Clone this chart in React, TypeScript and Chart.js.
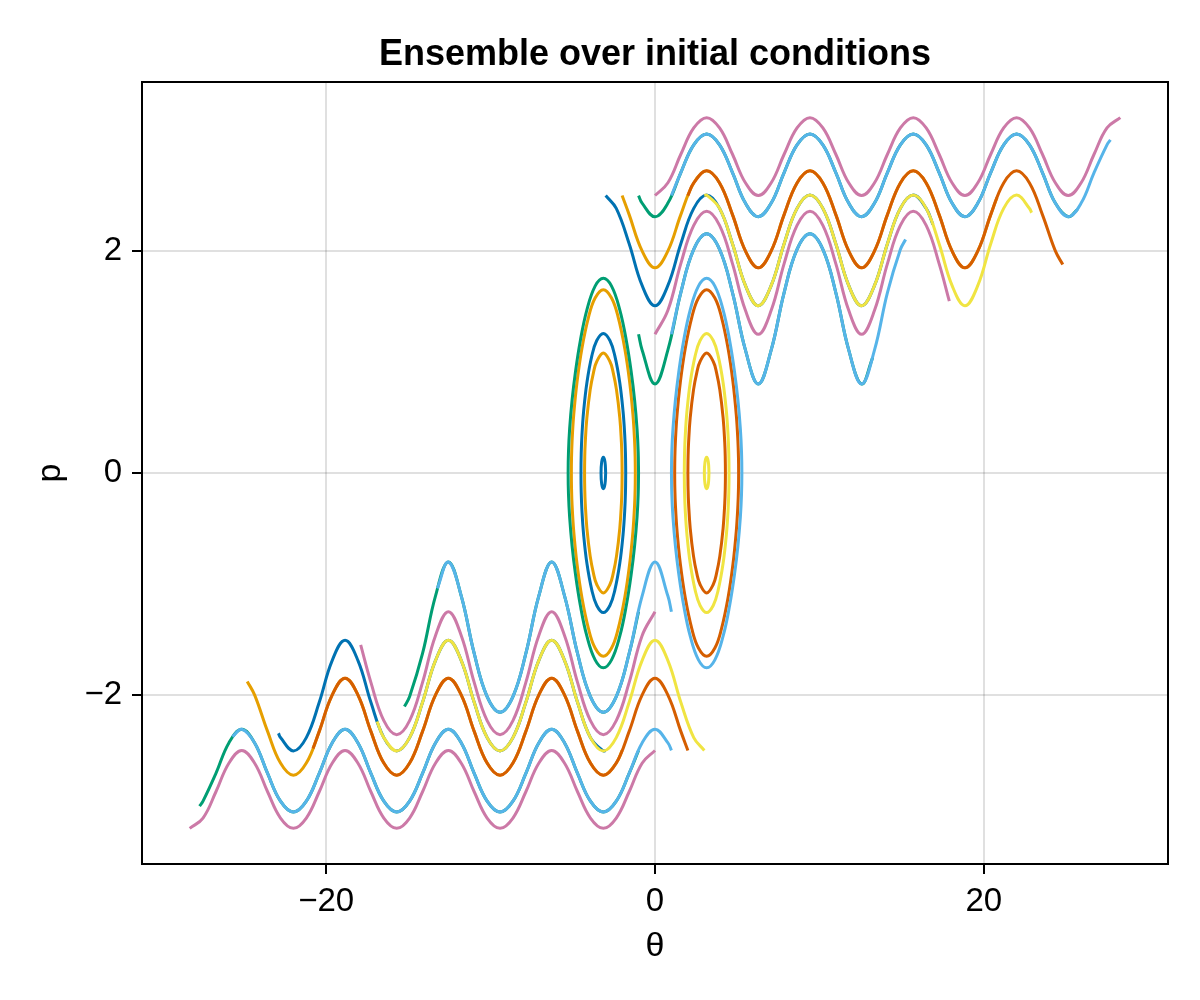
import { useEffect, useRef } from "react";
import { Chart, registerables } from "chart.js";

Chart.register(...registerables);

// ---- axes ----
const xTicks = [-20, 0, 20];
const yTicks = [-2, 0, 2];
const xRange = [-31.2, 31.2];
const yRange = [-3.523, 3.523];
const titleText = "Ensemble over initial conditions";
const xLabel = "θ";
const yLabel = "p";

// Wong palette (one colour per initial θ0 = -3 … 3)
const palette = ["#0072B2", "#E69F00", "#009E73", "#CC79A7", "#56B4E9", "#D55E00", "#F0E442"];

// ---- trajectories, row p0 = 2.5 ----
const p25_m3 = [[-3,2.5],[-2.356,2.384],[-1.571,2.066],[-0.785,1.69],[0,1.507],[0.785,1.69],[1.571,2.066],[2.356,2.384],[3.142,2.504],[3.927,2.384],[4.712,2.066],[5.498,1.69],[6.283,1.507],[7.069,1.69],[7.854,2.066],[8.639,2.384],[9.425,2.504],[10.21,2.384],[10.996,2.066],[11.781,1.69],[12.566,1.507],[13.352,1.69],[14.137,2.066],[14.923,2.384],[15.708,2.504],[16.493,2.384],[16.9,2.239]];
const p25_m2 = [[-2,2.5],[-1.571,2.328],[-0.785,2.001],[0,1.849],[0.785,2.001],[1.571,2.328],[2.356,2.614],[3.142,2.724],[3.927,2.614],[4.712,2.328],[5.498,2.001],[6.283,1.849],[7.069,2.001],[7.854,2.328],[8.639,2.614],[9.425,2.724],[10.21,2.614],[10.996,2.328],[11.781,2.001],[12.566,1.849],[13.352,2.001],[14.137,2.328],[14.923,2.614],[15.708,2.724],[16.493,2.614],[17.279,2.328],[18.064,2.001],[18.85,1.849],[19.635,2.001],[20.42,2.328],[20.8,2.482]];
const p25_m1 = [[-1,2.5],[-0.785,2.432],[0,2.309],[0.785,2.432],[1.571,2.707],[2.356,2.957],[3.142,3.055],[3.927,2.957],[4.712,2.707],[5.498,2.432],[6.283,2.309],[7.069,2.432],[7.854,2.707],[8.639,2.957],[9.425,3.055],[10.21,2.957],[10.996,2.707],[11.781,2.432],[12.566,2.309],[13.352,2.432],[14.137,2.707],[14.923,2.957],[15.708,3.055],[16.493,2.957],[17.279,2.707],[18.064,2.432],[18.85,2.309],[19.635,2.432],[20.42,2.707],[21.206,2.957],[21.991,3.055],[22.777,2.957],[23.562,2.707],[24.347,2.432],[25.133,2.309],[25.7,2.376]];
const p25_0 = [[0,2.5],[0.785,2.615],[1.571,2.872],[2.356,3.109],[3.142,3.202],[3.927,3.109],[4.712,2.872],[5.498,2.615],[6.283,2.5],[7.069,2.615],[7.854,2.872],[8.639,3.109],[9.425,3.202],[10.21,3.109],[10.996,2.872],[11.781,2.615],[12.566,2.5],[13.352,2.615],[14.137,2.872],[14.923,3.109],[15.708,3.202],[16.493,3.109],[17.279,2.872],[18.064,2.615],[18.85,2.5],[19.635,2.615],[20.42,2.872],[21.206,3.109],[21.991,3.202],[22.777,3.109],[23.562,2.872],[24.347,2.615],[25.133,2.5],[25.918,2.615],[26.704,2.872],[27.489,3.109],[28.3,3.202]];
const p25_1 = [[1,2.5],[1.571,2.707],[2.356,2.957],[3.142,3.055],[3.927,2.957],[4.712,2.707],[5.498,2.432],[6.283,2.309],[7.069,2.432],[7.854,2.707],[8.639,2.957],[9.425,3.055],[10.21,2.957],[10.996,2.707],[11.781,2.432],[12.566,2.309],[13.352,2.432],[14.137,2.707],[14.923,2.957],[15.708,3.055],[16.493,2.957],[17.279,2.707],[18.064,2.432],[18.85,2.309],[19.635,2.432],[20.42,2.707],[21.206,2.957],[21.991,3.055],[22.777,2.957],[23.562,2.707],[24.347,2.432],[25.133,2.309],[25.918,2.432],[26.704,2.707],[27.489,2.957],[27.7,3.002]];
const p25_2 = [[2,2.5],[2.356,2.614],[3.142,2.724],[3.927,2.614],[4.712,2.328],[5.498,2.001],[6.283,1.849],[7.069,2.001],[7.854,2.328],[8.639,2.614],[9.425,2.724],[10.21,2.614],[10.996,2.328],[11.781,2.001],[12.566,1.849],[13.352,2.001],[14.137,2.328],[14.923,2.614],[15.708,2.724],[16.493,2.614],[17.279,2.328],[18.064,2.001],[18.85,1.849],[19.635,2.001],[20.42,2.328],[21.206,2.614],[21.991,2.724],[22.777,2.614],[23.562,2.328],[24.347,2.001],[24.8,1.878]];
const p25_3 = [[3,2.5],[3.142,2.504],[3.927,2.384],[4.712,2.066],[5.498,1.69],[6.283,1.507],[7.069,1.69],[7.854,2.066],[8.639,2.384],[9.425,2.504],[10.21,2.384],[10.996,2.066],[11.781,1.69],[12.566,1.507],[13.352,1.69],[14.137,2.066],[14.923,2.384],[15.708,2.504],[16.493,2.384],[17.279,2.066],[18.064,1.69],[18.85,1.507],[19.635,1.69],[20.42,2.066],[21.206,2.384],[21.991,2.504],[22.777,2.384],[22.9,2.345]];

// ---- row p0 = 1.25 ----
const ring126L = [[-1.781,0],[-1.797,0.175],[-1.842,0.343],[-1.942,0.554],[-2.142,0.814],[-2.442,1.055],[-2.742,1.194],[-3.142,1.258],[-3.542,1.194],[-3.842,1.055],[-4.142,0.814],[-4.342,0.554],[-4.442,0.343],[-4.487,0.175],[-4.502,0],[-4.487,-0.175],[-4.442,-0.343],[-4.342,-0.554],[-4.142,-0.814],[-3.842,-1.055],[-3.542,-1.194],[-3.142,-1.258],[-2.742,-1.194],[-2.442,-1.055],[-2.142,-0.814],[-1.942,-0.554],[-1.842,-0.343],[-1.797,-0.175],[-1.781,0]];
const ring165L = [[-1.197,0],[-1.207,0.134],[-1.242,0.289],[-1.342,0.525],[-1.542,0.82],[-1.842,1.125],[-2.242,1.405],[-2.642,1.577],[-3.142,1.652],[-3.642,1.577],[-4.042,1.405],[-4.442,1.125],[-4.742,0.82],[-4.942,0.525],[-5.042,0.289],[-5.077,0.134],[-5.086,0],[-5.077,-0.134],[-5.042,-0.289],[-4.942,-0.525],[-4.742,-0.82],[-4.442,-1.125],[-4.042,-1.405],[-3.642,-1.577],[-3.142,-1.652],[-2.642,-1.577],[-2.242,-1.405],[-1.842,-1.125],[-1.542,-0.82],[-1.342,-0.525],[-1.242,-0.289],[-1.207,-0.134],[-1.197,0]];
const p125_m1 = [[-1,1.25],[-0.785,1.109],[0,0.802],[0.785,1.109],[1.571,1.626],[2.356,2.014],[3.142,2.155],[3.927,2.014],[4.712,1.626],[5.498,1.109],[6.283,0.802],[7.069,1.109],[7.854,1.626],[8.639,2.014],[9.425,2.155],[10.21,2.014],[10.996,1.626],[11.781,1.109],[12.566,0.802],[13.24,1.04]];
const p125_0 = [[0,1.25],[0.785,1.466],[1.571,1.887],[2.356,2.231],[3.142,2.358],[3.927,2.231],[4.712,1.887],[5.498,1.466],[6.283,1.25],[7.069,1.466],[7.854,1.887],[8.639,2.231],[9.425,2.358],[10.21,2.231],[10.996,1.887],[11.781,1.466],[12.566,1.25],[13.352,1.466],[14.137,1.887],[14.923,2.231],[15.708,2.358],[16.493,2.231],[17.279,1.887],[17.9,1.549]];
const p125_1 = [[1,1.25],[1.571,1.626],[2.356,2.014],[3.142,2.155],[3.927,2.014],[4.712,1.626],[5.498,1.109],[6.283,0.802],[7.069,1.109],[7.854,1.626],[8.639,2.014],[9.425,2.155],[10.21,2.014],[10.996,1.626],[11.781,1.109],[12.566,0.802],[13.352,1.109],[14.137,1.626],[14.923,2.014],[15.24,2.104]];
const ring165R = [[1.197,0],[1.207,0.134],[1.242,0.289],[1.342,0.525],[1.542,0.82],[1.842,1.125],[2.242,1.405],[2.642,1.577],[3.142,1.652],[3.642,1.577],[4.042,1.405],[4.442,1.125],[4.742,0.82],[4.942,0.525],[5.042,0.289],[5.077,0.134],[5.086,0],[5.077,-0.134],[5.042,-0.289],[4.942,-0.525],[4.742,-0.82],[4.442,-1.125],[4.042,-1.405],[3.642,-1.577],[3.142,-1.652],[2.642,-1.577],[2.242,-1.405],[1.842,-1.125],[1.542,-0.82],[1.342,-0.525],[1.242,-0.289],[1.207,-0.134],[1.197,0]];
const ring126R = [[1.781,0],[1.797,0.175],[1.842,0.343],[1.942,0.554],[2.142,0.814],[2.442,1.055],[2.742,1.194],[3.142,1.258],[3.542,1.194],[3.842,1.055],[4.142,0.814],[4.342,0.554],[4.442,0.343],[4.487,0.175],[4.502,0],[4.487,-0.175],[4.442,-0.343],[4.342,-0.554],[4.142,-0.814],[3.842,-1.055],[3.542,-1.194],[3.142,-1.258],[2.742,-1.194],[2.442,-1.055],[2.142,-0.814],[1.942,-0.554],[1.842,-0.343],[1.797,-0.175],[1.781,0]];

// ---- row p0 = 0 ----
const ringTinyL = [[-3.0,0],[-3.042,0.1],[-3.142,0.1415],[-3.242,0.1],[-3.283,0],[-3.242,-0.1],[-3.142,-0.1415],[-3.042,-0.1],[-3.0,0]];
const ring108L = [[-2.0,0],[-2.012,0.146],[-2.042,0.274],[-2.142,0.498],[-2.342,0.749],[-2.542,0.905],[-2.742,1.005],[-3.142,1.081],[-3.542,1.005],[-3.742,0.905],[-3.942,0.749],[-4.142,0.498],[-4.242,0.274],[-4.272,0.146],[-4.283,0],[-4.272,-0.146],[-4.242,-0.274],[-4.142,-0.498],[-3.942,-0.749],[-3.742,-0.905],[-3.542,-1.005],[-3.142,-1.081],[-2.742,-1.005],[-2.542,-0.905],[-2.342,-0.749],[-2.142,-0.498],[-2.042,-0.274],[-2.012,-0.146],[-2.0,0]];
const ring175L = [[-1.0,0],[-1.022,0.191],[-1.092,0.398],[-1.242,0.659],[-1.442,0.907],[-1.742,1.192],[-2.142,1.47],[-2.642,1.684],[-3.142,1.755],[-3.642,1.684],[-4.142,1.47],[-4.542,1.192],[-4.842,0.907],[-5.042,0.659],[-5.192,0.398],[-5.262,0.191],[-5.283,0],[-5.262,-0.191],[-5.192,-0.398],[-5.042,-0.659],[-4.842,-0.907],[-4.542,-1.192],[-4.142,-1.47],[-3.642,-1.684],[-3.142,-1.755],[-2.642,-1.684],[-2.142,-1.47],[-1.742,-1.192],[-1.442,-0.907],[-1.242,-0.659],[-1.092,-0.398],[-1.022,-0.191],[-1.0,0]];
const ring175R = [[1.0,0],[1.022,0.191],[1.092,0.398],[1.242,0.659],[1.442,0.907],[1.742,1.192],[2.142,1.47],[2.642,1.684],[3.142,1.755],[3.642,1.684],[4.142,1.47],[4.542,1.192],[4.842,0.907],[5.042,0.659],[5.192,0.398],[5.262,0.191],[5.283,0],[5.262,-0.191],[5.192,-0.398],[5.042,-0.659],[4.842,-0.907],[4.542,-1.192],[4.142,-1.47],[3.642,-1.684],[3.142,-1.755],[2.642,-1.684],[2.142,-1.47],[1.742,-1.192],[1.442,-0.907],[1.242,-0.659],[1.092,-0.398],[1.022,-0.191],[1.0,0]];
const ring108R = [[2.0,0],[2.012,0.146],[2.042,0.274],[2.142,0.498],[2.342,0.749],[2.542,0.905],[2.742,1.005],[3.142,1.081],[3.542,1.005],[3.742,0.905],[3.942,0.749],[4.142,0.498],[4.242,0.274],[4.272,0.146],[4.283,0],[4.272,-0.146],[4.242,-0.274],[4.142,-0.498],[3.942,-0.749],[3.742,-0.905],[3.542,-1.005],[3.142,-1.081],[2.742,-1.005],[2.542,-0.905],[2.342,-0.749],[2.142,-0.498],[2.042,-0.274],[2.012,-0.146],[2.0,0]];
const ringTinyR = [[3.283,0],[3.242,0.1],[3.142,0.1415],[3.042,0.1],[3.0,0],[3.042,-0.1],[3.142,-0.1415],[3.242,-0.1],[3.283,0]];

// ---- row p0 = -1.25 (closed orbits coincide with row 1.25) ----
const pm125_m1 = [[-1,-1.25],[-1.571,-1.626],[-2.356,-2.014],[-3.142,-2.155],[-3.927,-2.014],[-4.712,-1.626],[-5.498,-1.109],[-6.283,-0.802],[-7.069,-1.109],[-7.854,-1.626],[-8.639,-2.014],[-9.425,-2.155],[-10.21,-2.014],[-10.996,-1.626],[-11.781,-1.109],[-12.566,-0.802],[-13.352,-1.109],[-14.137,-1.626],[-14.923,-2.014],[-15.24,-2.104]];
const pm125_0 = [[0,-1.25],[-0.785,-1.466],[-1.571,-1.887],[-2.356,-2.231],[-3.142,-2.358],[-3.927,-2.231],[-4.712,-1.887],[-5.498,-1.466],[-6.283,-1.25],[-7.069,-1.466],[-7.854,-1.887],[-8.639,-2.231],[-9.425,-2.358],[-10.21,-2.231],[-10.996,-1.887],[-11.781,-1.466],[-12.566,-1.25],[-13.352,-1.466],[-14.137,-1.887],[-14.923,-2.231],[-15.708,-2.358],[-16.493,-2.231],[-17.279,-1.887],[-17.9,-1.549]];
const pm125_1 = [[1,-1.25],[0.785,-1.109],[0,-0.802],[-0.785,-1.109],[-1.571,-1.626],[-2.356,-2.014],[-3.142,-2.155],[-3.927,-2.014],[-4.712,-1.626],[-5.498,-1.109],[-6.283,-0.802],[-7.069,-1.109],[-7.854,-1.626],[-8.639,-2.014],[-9.425,-2.155],[-10.21,-2.014],[-10.996,-1.626],[-11.781,-1.109],[-12.566,-0.802],[-13.24,-1.04]];

// ---- row p0 = -2.5 ----
const pm25_m3 = [[-3,-2.5],[-3.142,-2.504],[-3.927,-2.384],[-4.712,-2.066],[-5.498,-1.69],[-6.283,-1.507],[-7.069,-1.69],[-7.854,-2.066],[-8.639,-2.384],[-9.425,-2.504],[-10.21,-2.384],[-10.996,-2.066],[-11.781,-1.69],[-12.566,-1.507],[-13.352,-1.69],[-14.137,-2.066],[-14.923,-2.384],[-15.708,-2.504],[-16.493,-2.384],[-17.279,-2.066],[-18.064,-1.69],[-18.85,-1.507],[-19.635,-1.69],[-20.42,-2.066],[-21.206,-2.384],[-21.991,-2.504],[-22.777,-2.384],[-22.9,-2.345]];
const pm25_m2 = [[-2,-2.5],[-2.356,-2.614],[-3.142,-2.724],[-3.927,-2.614],[-4.712,-2.328],[-5.498,-2.001],[-6.283,-1.849],[-7.069,-2.001],[-7.854,-2.328],[-8.639,-2.614],[-9.425,-2.724],[-10.21,-2.614],[-10.996,-2.328],[-11.781,-2.001],[-12.566,-1.849],[-13.352,-2.001],[-14.137,-2.328],[-14.923,-2.614],[-15.708,-2.724],[-16.493,-2.614],[-17.279,-2.328],[-18.064,-2.001],[-18.85,-1.849],[-19.635,-2.001],[-20.42,-2.328],[-21.206,-2.614],[-21.991,-2.724],[-22.777,-2.614],[-23.562,-2.328],[-24.347,-2.001],[-24.8,-1.878]];
const pm25_m1 = [[-1,-2.5],[-1.571,-2.707],[-2.356,-2.957],[-3.142,-3.055],[-3.927,-2.957],[-4.712,-2.707],[-5.498,-2.432],[-6.283,-2.309],[-7.069,-2.432],[-7.854,-2.707],[-8.639,-2.957],[-9.425,-3.055],[-10.21,-2.957],[-10.996,-2.707],[-11.781,-2.432],[-12.566,-2.309],[-13.352,-2.432],[-14.137,-2.707],[-14.923,-2.957],[-15.708,-3.055],[-16.493,-2.957],[-17.279,-2.707],[-18.064,-2.432],[-18.85,-2.309],[-19.635,-2.432],[-20.42,-2.707],[-21.206,-2.957],[-21.991,-3.055],[-22.777,-2.957],[-23.562,-2.707],[-24.347,-2.432],[-25.133,-2.309],[-25.918,-2.432],[-26.704,-2.707],[-27.489,-2.957],[-27.7,-3.002]];
const pm25_0 = [[0,-2.5],[-0.785,-2.615],[-1.571,-2.872],[-2.356,-3.109],[-3.142,-3.202],[-3.927,-3.109],[-4.712,-2.872],[-5.498,-2.615],[-6.283,-2.5],[-7.069,-2.615],[-7.854,-2.872],[-8.639,-3.109],[-9.425,-3.202],[-10.21,-3.109],[-10.996,-2.872],[-11.781,-2.615],[-12.566,-2.5],[-13.352,-2.615],[-14.137,-2.872],[-14.923,-3.109],[-15.708,-3.202],[-16.493,-3.109],[-17.279,-2.872],[-18.064,-2.615],[-18.85,-2.5],[-19.635,-2.615],[-20.42,-2.872],[-21.206,-3.109],[-21.991,-3.202],[-22.777,-3.109],[-23.562,-2.872],[-24.347,-2.615],[-25.133,-2.5],[-25.918,-2.615],[-26.704,-2.872],[-27.489,-3.109],[-28.3,-3.202]];
const pm25_1 = [[1,-2.5],[0.785,-2.432],[0,-2.309],[-0.785,-2.432],[-1.571,-2.707],[-2.356,-2.957],[-3.142,-3.055],[-3.927,-2.957],[-4.712,-2.707],[-5.498,-2.432],[-6.283,-2.309],[-7.069,-2.432],[-7.854,-2.707],[-8.639,-2.957],[-9.425,-3.055],[-10.21,-2.957],[-10.996,-2.707],[-11.781,-2.432],[-12.566,-2.309],[-13.352,-2.432],[-14.137,-2.707],[-14.923,-2.957],[-15.708,-3.055],[-16.493,-2.957],[-17.279,-2.707],[-18.064,-2.432],[-18.85,-2.309],[-19.635,-2.432],[-20.42,-2.707],[-21.206,-2.957],[-21.991,-3.055],[-22.777,-2.957],[-23.562,-2.707],[-24.347,-2.432],[-25.133,-2.309],[-25.7,-2.376]];
const pm25_2 = [[2,-2.5],[1.571,-2.328],[0.785,-2.001],[0,-1.849],[-0.785,-2.001],[-1.571,-2.328],[-2.356,-2.614],[-3.142,-2.724],[-3.927,-2.614],[-4.712,-2.328],[-5.498,-2.001],[-6.283,-1.849],[-7.069,-2.001],[-7.854,-2.328],[-8.639,-2.614],[-9.425,-2.724],[-10.21,-2.614],[-10.996,-2.328],[-11.781,-2.001],[-12.566,-1.849],[-13.352,-2.001],[-14.137,-2.328],[-14.923,-2.614],[-15.708,-2.724],[-16.493,-2.614],[-17.279,-2.328],[-18.064,-2.001],[-18.85,-1.849],[-19.635,-2.001],[-20.42,-2.328],[-20.8,-2.482]];
const pm25_3 = [[3,-2.5],[2.356,-2.384],[1.571,-2.066],[0.785,-1.69],[0,-1.507],[-0.785,-1.69],[-1.571,-2.066],[-2.356,-2.384],[-3.142,-2.504],[-3.927,-2.384],[-4.712,-2.066],[-5.498,-1.69],[-6.283,-1.507],[-7.069,-1.69],[-7.854,-2.066],[-8.639,-2.384],[-9.425,-2.504],[-10.21,-2.384],[-10.996,-2.066],[-11.781,-1.69],[-12.566,-1.507],[-13.352,-1.69],[-14.137,-2.066],[-14.923,-2.384],[-15.708,-2.504],[-16.493,-2.384],[-16.9,-2.239]];

// draw order (later entries drawn on top): [points, colour index]
const trajectories: [number[][], number][] = [
  [p25_m3, 0], [p25_m2, 1], [p25_m1, 2], [p25_0, 3], [p25_1, 4], [p25_2, 5], [p25_3, 6],
  [ring126L, 0], [ring165L, 1], [p125_m1, 2], [p125_0, 3], [p125_1, 4], [ring165R, 5], [ring126R, 6],
  [ringTinyL, 0], [ring108L, 1], [ring175L, 2], [ring175R, 4], [ring108R, 5], [ringTinyR, 6],
  [pm125_m1, 2], [pm125_0, 3], [pm125_1, 4],
  [pm25_m3, 0], [pm25_m2, 1], [pm25_m1, 2], [pm25_0, 3], [pm25_1, 4], [pm25_2, 5], [pm25_3, 6],
];

const FONT = '"Liberation Sans", Arial, Helvetica, sans-serif';
const fmt = (v: number) => (v < 0 ? "\u2212" + Math.abs(v) : String(v));

const framePlugin = {
  id: "frameTitle",
  afterDraw(chart: any) {
    const { ctx, chartArea } = chart;
    const { left, right, top, bottom } = chartArea;
    ctx.save();
    ctx.strokeStyle = "#000";
    ctx.lineWidth = 2;
    ctx.strokeRect(left, top, right - left, bottom - top);
    ctx.fillStyle = "#000";
    ctx.font = `bold 36px ${FONT}`;
    ctx.textAlign = "center";
    ctx.textBaseline = "middle";
    ctx.fillText(titleText, (left + right) / 2, 55);
    ctx.restore();
  },
};

export default function App() {
  const ref = useRef<HTMLCanvasElement | null>(null);
  useEffect(() => {
    if (!ref.current) return;
    const n = trajectories.length;
    const datasets = trajectories.map(([pts, c], i) => ({
      data: pts.map(([x, y]) => ({ x, y })),
      showLine: true,
      borderColor: palette[c],
      backgroundColor: palette[c],
      borderWidth: 3,
      pointRadius: 0,
      pointHoverRadius: 0,
      tension: 0.4,
      fill: false,
      order: n - i,
      borderJoinStyle: "round" as const,
    }));
    const gridCommon = {
      color: "rgba(0,0,0,0.12)",
      lineWidth: 2,
      drawTicks: true,
      tickLength: 10,
      tickColor: "#000",
      tickWidth: 2,
    };
    const chart = new Chart(ref.current, {
      type: "scatter",
      data: { datasets },
      options: {
        animation: false,
        responsive: false,
        devicePixelRatio: 1,
        layout: { padding: { left: 0, right: 32, top: 82, bottom: 0 } },
        plugins: { legend: { display: false }, tooltip: { enabled: false }, title: { display: false } },
        scales: {
          x: {
            type: "linear",
            min: xRange[0],
            max: xRange[1],
            afterBuildTicks: (axis: any) => { axis.ticks = xTicks.map((v) => ({ value: v })); },
            afterFit: (s: any) => { s.height = 136; },
            grid: gridCommon,
            border: { display: false },
            ticks: { color: "#000", font: { family: FONT, size: 33 }, padding: 8, maxRotation: 0, autoSkip: false, callback: (v: any) => fmt(Number(v)) },
            title: { display: true, text: xLabel, color: "#000", font: { family: FONT, size: 34 }, padding: { top: 0, bottom: 33 } },
          },
          y: {
            type: "linear",
            min: yRange[0],
            max: yRange[1],
            afterBuildTicks: (axis: any) => { axis.ticks = yTicks.map((v) => ({ value: v })); },
            afterFit: (s: any) => { s.width = 142; },
            grid: gridCommon,
            border: { display: false },
            ticks: { color: "#000", font: { family: FONT, size: 33 }, padding: 10, autoSkip: false, callback: (v: any) => fmt(Number(v)) },
            title: { display: true, text: yLabel, color: "#000", font: { family: FONT, size: 34 }, padding: { top: 30, bottom: 0 } },
          },
        },
      },
      plugins: [framePlugin],
    });
    return () => chart.destroy();
  }, []);
  return (
    <div style={{ position: "fixed", left: 0, top: 0, width: 1200, height: 1000, background: "#fff" }}>
      <canvas ref={ref} width={1200} height={1000} style={{ display: "block" }} />
    </div>
  );
}
